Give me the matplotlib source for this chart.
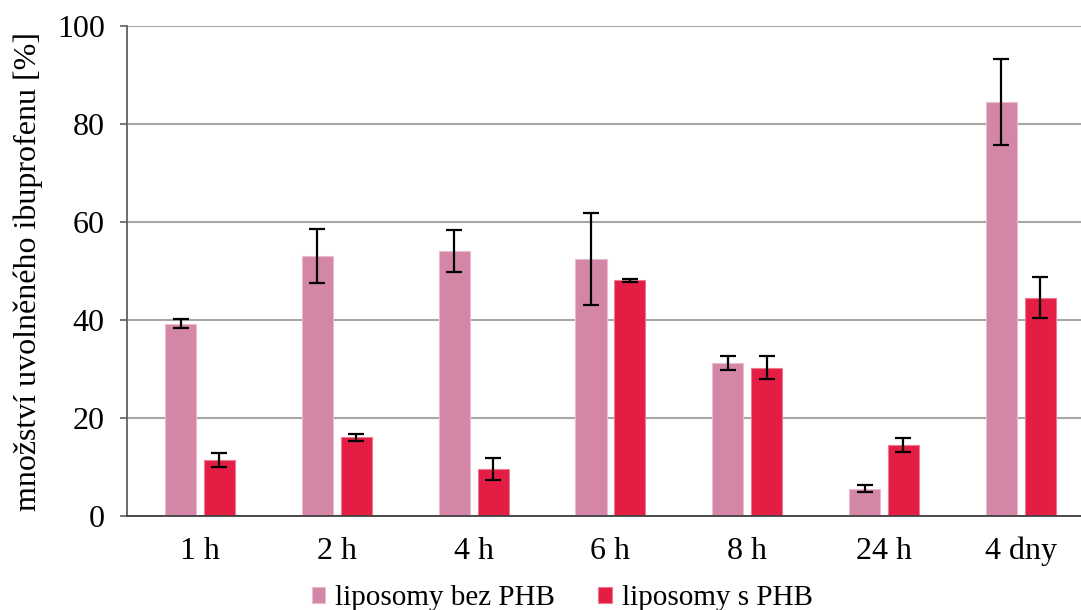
import numpy as np
import matplotlib
matplotlib.use("Agg")
import matplotlib.pyplot as plt

categories = ["1 h", "2 h", "4 h", "6 h", "8 h", "24 h", "4 dny"]
bez_phb = [39.3, 53.1, 54.1, 52.4, 31.2, 5.6, 84.5]
bez_phb_err = [1.0, 5.5, 4.3, 9.4, 1.4, 0.65, 8.8]
s_phb = [11.4, 16.1, 9.6, 48.1, 30.3, 14.5, 44.6]
s_phb_err = [1.4, 0.7, 2.3, 0.3, 2.4, 1.5, 4.2]

plt.rcParams['font.family'] = ['Liberation Serif', 'DejaVu Serif']

fig = plt.figure(figsize=(10.81, 6.10), dpi=100)
ax = fig.add_axes([0.1175, 0.154, 0.8825, 0.803])

x = np.arange(len(categories))
w = 0.227
off = 0.142
err_kw = {'ecolor': 'black', 'elinewidth': 1.6, 'capthick': 1.6}
ax.bar(x - off, bez_phb, w, yerr=bez_phb_err, capsize=6, color='#D486A6',
       edgecolor='#E8BCCD', linewidth=0.8, label='liposomy bez PHB',
       error_kw=err_kw, zorder=2)
ax.bar(x + off, s_phb, w, yerr=s_phb_err, capsize=6, color='#E31D44',
       edgecolor='#EE7A92', linewidth=0.8, label='liposomy s PHB',
       error_kw=err_kw, zorder=2)

ax.set_xlim(-0.534, 6.44)
ax.set_ylim(0, 100)
ax.set_yticks([0, 20, 40, 60, 80, 100])
ax.set_xticks(x)
ax.set_xticklabels(categories)
ax.tick_params(axis='both', labelsize=23, colors='black')
ax.tick_params(axis='x', length=0, pad=15)
ax.tick_params(axis='y', length=5, width=1.2, color='#606060', pad=11)
ax.yaxis.grid(True, color='#A6A6A6', linewidth=1.5, zorder=0)
ax.set_axisbelow(True)

for s in ['top', 'right']:
    ax.spines[s].set_visible(False)
ax.spines['left'].set_color('#606060')
ax.spines['left'].set_linewidth(1.3)
ax.spines['bottom'].set_color('#404040')
ax.spines['bottom'].set_linewidth(1.3)

ax.set_ylabel('množství uvolněného ibuprofenu [%]', fontsize=23, labelpad=10)

fig.legend(loc='lower center', ncol=2, frameon=False, fontsize=21,
           bbox_to_anchor=(0.52, -0.045), handlelength=0.45, handleheight=0.45,
           handletextpad=0.35, columnspacing=1.5)

fig.savefig('out.png', dpi=100)
